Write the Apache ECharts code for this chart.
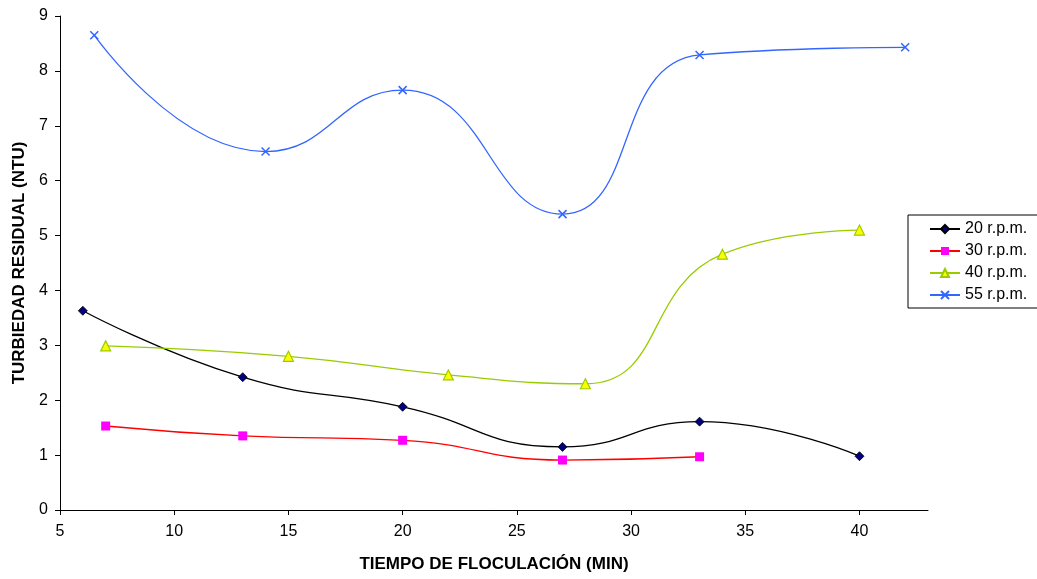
<!DOCTYPE html>
<html>
<head>
<meta charset="utf-8">
<script src="https://cdn.jsdelivr.net/npm/echarts@6/dist/echarts.min.js"></script>
<style>html,body{margin:0;padding:0;background:#fff}#c{width:1037px;height:579px}</style>
</head>
<body>
<div id="c"></div>
<script>
const seriesNames = ['20 r.p.m.', '30 r.p.m.', '40 r.p.m.', '55 r.p.m.'];
const rpm20 = [[6, 3.63], [13, 2.42], [20, 1.88], [27, 1.15], [33, 1.61], [40, 0.98]];
const rpm30 = [[7, 1.53], [13, 1.35], [20, 1.27], [27, 0.91], [33, 0.97]];
const rpm40 = [[7, 2.99], [15, 2.80], [22, 2.46], [28, 2.30], [34, 4.66], [40, 5.10]];
const rpm55 = [[6.5, 8.65], [14, 6.53], [20, 7.65], [27, 5.39], [33, 8.29], [42, 8.43]];
const xTicks = [5, 10, 15, 20, 25, 30, 35, 40];
const yTicks = [0, 1, 2, 3, 4, 5, 6, 7, 8, 9];
const xTitle = 'TIEMPO DE FLOCULACIÓN (MIN)';
const yTitle = 'TURBIEDAD RESIDUAL (NTU)';

const FONT = '"Liberation Sans", Arial, sans-serif';
const chart = echarts.init(document.getElementById('c'), null, {renderer: 'canvas'});

function mk(name, data, lineColor, symbol, size, fill, border, bw) {
  return {
    name: name, type: 'line', data: data, smooth: 0.5,
    symbol: symbol, symbolSize: size, showSymbol: true,
    lineStyle: {color: lineColor, width: 1.3},
    itemStyle: {color: fill, borderColor: border, borderWidth: bw},
    emphasis: {disabled: true},
    animation: false, z: 3
  };
}

chart.setOption({
  animation: false,
  backgroundColor: '#ffffff',
  textStyle: {fontFamily: FONT},
  grid: {left: 60, right: 109, top: 16, bottom: 69, containLabel: false},
  legend: {
    orient: 'vertical', left: 908, top: 215,
    data: seriesNames,
    itemWidth: 30, itemHeight: 10, itemGap: 0,
    padding: [3, 11, 2, 21],
    borderColor: '#000', borderWidth: 1,
    textStyle: {fontFamily: FONT, fontSize: 16, color: '#000', lineHeight: 22},
    selectedMode: false
  },
  xAxis: {
    type: 'value', min: 5, max: 43, interval: 5,
    name: xTitle, nameLocation: 'middle', nameGap: 46,
    nameTextStyle: {fontFamily: FONT, fontSize: 17, fontWeight: 'bold', color: '#000'},
    axisLine: {show: true, onZero: false, lineStyle: {color: '#000', width: 1}},
    axisTick: {show: true, length: 5, lineStyle: {color: '#000'}, customValues: xTicks},
    axisLabel: {fontFamily: FONT, fontSize: 16, color: '#000', margin: 14, customValues: xTicks},
    splitLine: {show: false}
  },
  yAxis: {
    type: 'value', min: 0, max: 9, interval: 1,
    name: yTitle, nameLocation: 'middle', nameGap: 32, nameRotate: 90,
    nameTextStyle: {fontFamily: FONT, fontSize: 17, fontWeight: 'bold', color: '#000'},
    axisLine: {show: true, lineStyle: {color: '#000', width: 1}},
    axisTick: {show: true, length: 5, lineStyle: {color: '#000'}, customValues: yTicks},
    axisLabel: {fontFamily: FONT, fontSize: 16, color: '#000', margin: 12, customValues: yTicks},
    splitLine: {show: false}
  },
  series: [
    mk(seriesNames[0], rpm20, '#000000', 'diamond', 9, '#000080', '#000000', 0.8),
    mk(seriesNames[1], rpm30, '#FF0000', 'rect', 9, '#FF00FF', '#FF00FF', 0),
    mk(seriesNames[2], rpm40, '#99CC00', 'triangle', 10, '#FFFF00', '#99CC00', 1.2),
    mk(seriesNames[3], rpm55, '#3366FF', 'path://M0,0L10,10M10,0L0,10', 8, 'rgba(0,0,0,0)', '#3366FF', 1.5)
  ]
});
</script>
</body>
</html>
